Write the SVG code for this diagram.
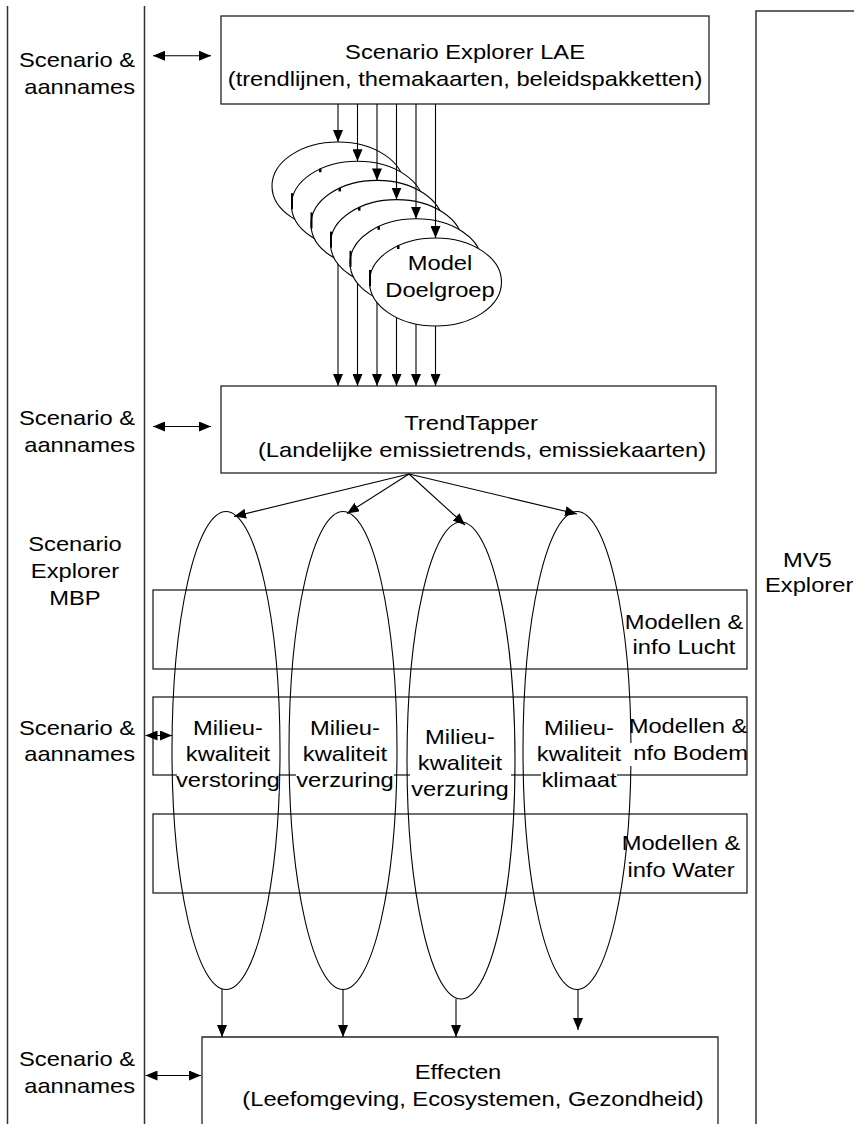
<svg xmlns="http://www.w3.org/2000/svg" width="854" height="1124" viewBox="0 0 854 1124">
  <style>
    .t { font-family: "Liberation Sans", Arial, sans-serif; font-size: 21px; fill: #000; }
    .m { text-anchor: middle; }
    .e { text-anchor: end; }
    .box { fill: #fff; stroke: #222; stroke-width: 1.3; }
    .frame { fill: none; stroke: #333; stroke-width: 1.5; }
    .ln { fill: none; stroke: #000; stroke-width: 1.1; }
    .arr { fill: none; stroke: #000; stroke-width: 1.1; marker-end: url(#ah); }
    .dbl { fill: none; stroke: #000; stroke-width: 1.1; marker-start: url(#ah); marker-end: url(#ah); }
    .ov { fill: #fff; stroke: #000; stroke-width: 1.1; }
    .tall { fill: none; stroke: #000; stroke-width: 1.1; }
    .bg { fill: #fff; }
    .mk { fill: #000; }
  </style>
  <defs>
    <marker id="ah" viewBox="0 0 12 10" refX="12" refY="5" markerWidth="12" markerHeight="10" markerUnits="userSpaceOnUse" orient="auto-start-reverse">
      <path d="M0,0 L12,5 L0,10 z" fill="#000"/>
    </marker>
  </defs>

  <rect width="854" height="1124" fill="#fff"/>

  <!-- side panels -->
  <g id="panel-left">
    <path class="frame" d="M7.5 6 V1124 M144.5 6 V1124"/>
    <text class="t e" transform="translate(135 0) scale(1.13 1)"><tspan x="0" y="67.5">Scenario &amp;</tspan><tspan x="0" y="94">aannames</tspan></text>
    <text class="t e" transform="translate(135 0) scale(1.13 1)"><tspan x="0" y="425.5">Scenario &amp;</tspan><tspan x="0" y="452">aannames</tspan></text>
    <text class="t m" transform="translate(75 0) scale(1.13 1)"><tspan x="0" y="551">Scenario</tspan><tspan x="0" y="578">Explorer</tspan><tspan x="0" y="605">MBP</tspan></text>
    <text class="t e" transform="translate(135 0) scale(1.13 1)"><tspan x="0" y="735.5">Scenario &amp;</tspan><tspan x="0" y="761">aannames</tspan></text>
    <text class="t e" transform="translate(135 0) scale(1.13 1)"><tspan x="0" y="1066">Scenario &amp;</tspan><tspan x="0" y="1093">aannames</tspan></text>
  </g>
  <g id="panel-right">
    <path class="frame" d="M854 11 H756 V1124"/>
    <text class="t" transform="translate(783 0) scale(1.13 1)"><tspan x="0" y="567">MV5</tspan></text>
    <text class="t" transform="translate(765 0) scale(1.13 1)"><tspan x="0" y="592">Explorer</tspan></text>
  </g>

  <!-- top box -->
  <g id="scenario-explorer-lae">
    <rect class="box" x="221" y="16" width="488" height="88"/>
    <text class="t m" transform="translate(465 0) scale(1.13 1)"><tspan x="0" y="59.5">Scenario Explorer LAE</tspan><tspan x="0" y="86.5">(trendlijnen, themakaarten, beleidspakketten)</tspan></text>
  </g>

  <!-- lines from the model stack down to TrendTapper (hidden behind the ellipses) -->
  <g id="stack-outputs">
    <path class="arr" d="M338 186 V386"/>
    <path class="arr" d="M357.5 205 V386"/>
    <path class="arr" d="M377 224 V386"/>
    <path class="arr" d="M396.5 243 V386"/>
    <path class="arr" d="M416 263 V386"/>
    <path class="arr" d="M435.5 282 V386"/>
  </g>

  <!-- stacked target-group models, back to front -->
  <g id="model-doelgroep">
    <g>
      <ellipse class="ov" cx="338" cy="186" rx="66" ry="44"/>
    </g>
    <g>
      <ellipse class="ov" cx="357.5" cy="205.2" rx="66" ry="44"/>
      <rect class="mk" x="319" y="168.7" width="2.5" height="3.5"/>
      <rect class="mk" x="291" y="193.2" width="2" height="16"/>
    </g>
    <g>
      <ellipse class="ov" cx="377" cy="224.4" rx="66" ry="44"/>
      <rect class="mk" x="338.5" y="187.9" width="2.5" height="3.5"/>
      <rect class="mk" x="310.5" y="212.4" width="2" height="16"/>
    </g>
    <g>
      <ellipse class="ov" cx="396.5" cy="243.6" rx="66" ry="44"/>
      <rect class="mk" x="358" y="207.1" width="2.5" height="3.5"/>
      <rect class="mk" x="330" y="231.6" width="2" height="16"/>
    </g>
    <g>
      <ellipse class="ov" cx="416" cy="262.8" rx="66" ry="44"/>
      <rect class="mk" x="377.5" y="226.3" width="2.5" height="3.5"/>
      <rect class="mk" x="349.5" y="250.8" width="2" height="16"/>
    </g>
    <g>
      <ellipse class="ov" cx="435.5" cy="282" rx="66" ry="44"/>
      <rect class="mk" x="397" y="245.5" width="2.5" height="3.5"/>
      <rect class="mk" x="369" y="270" width="2" height="16"/>
      <text class="t m" transform="translate(440 0) scale(1.13 1)"><tspan x="0" y="270">Model</tspan><tspan x="0" y="297">Doelgroep</tspan></text>
    </g>
  </g>

  <!-- TrendTapper -->
  <g id="trendtapper">
    <rect class="box" x="221" y="386" width="495" height="87"/>
    <text class="t m" transform="translate(471 0) scale(1.13 1)"><tspan x="0" y="430.5">TrendTapper</tspan></text>
    <text class="t m" transform="translate(482 0) scale(1.13 1)"><tspan x="0" y="457.5">(Landelijke emissietrends, emissiekaarten)</tspan></text>
  </g>

  <!-- model and info boxes -->
  <g id="modellen-lucht">
    <rect class="box" x="153" y="590" width="594" height="79"/>
    <text class="t m" transform="translate(684 0) scale(1.13 1)"><tspan x="0" y="629">Modellen &amp;</tspan><tspan x="0" y="654">info Lucht</tspan></text>
  </g>
  <g id="modellen-bodem">
    <rect class="box" x="153" y="697" width="594" height="78"/>
    <text class="t m" transform="translate(688 0) scale(1.13 1)"><tspan x="0" y="733">Modellen &amp;</tspan><tspan x="0" y="760">info Bodem</tspan></text>
  </g>
  <g id="modellen-water">
    <rect class="box" x="153" y="814" width="594" height="79"/>
    <text class="t m" transform="translate(681 0) scale(1.13 1)"><tspan x="0" y="850">Modellen &amp;</tspan><tspan x="0" y="877">info Water</tspan></text>
  </g>

  <!-- environmental quality loops -->
  <g id="milieu-verstoring">
    <ellipse class="tall" cx="226" cy="750.5" rx="54" ry="239"/>
    <rect class="bg" x="193" y="717" width="70" height="23"/>
    <rect class="bg" x="186" y="743" width="84" height="23"/>
    <rect class="bg" x="177" y="769" width="101.5" height="24"/>
    <text class="t m" transform="translate(228 0) scale(1.13 1)"><tspan x="0" y="735">Milieu-</tspan><tspan x="0" y="761">kwaliteit</tspan><tspan x="0" y="787">verstoring</tspan></text>
  </g>
  <g id="milieu-verzuring-1">
    <ellipse class="tall" cx="343" cy="750.5" rx="54" ry="239"/>
    <rect class="bg" x="310" y="717" width="70" height="23"/>
    <rect class="bg" x="303" y="743" width="84" height="23"/>
    <rect class="bg" x="296" y="769" width="98" height="24"/>
    <text class="t m" transform="translate(345 0) scale(1.13 1)"><tspan x="0" y="735">Milieu-</tspan><tspan x="0" y="761">kwaliteit</tspan><tspan x="0" y="787">verzuring</tspan></text>
  </g>
  <g id="milieu-verzuring-2">
    <ellipse class="tall" cx="461" cy="760.5" rx="54" ry="238.5"/>
    <rect class="bg" x="425" y="726" width="70" height="23"/>
    <rect class="bg" x="410" y="752" width="101" height="25"/>
    <rect class="bg" x="411" y="778" width="98" height="24"/>
    <text class="t m" transform="translate(460 0) scale(1.13 1)"><tspan x="0" y="744">Milieu-</tspan><tspan x="0" y="770">kwaliteit</tspan><tspan x="0" y="796">verzuring</tspan></text>
  </g>
  <g id="milieu-klimaat">
    <ellipse class="tall" cx="577" cy="750.5" rx="54" ry="239"/>
    <rect class="bg" x="544" y="717" width="70" height="23"/>
    <rect class="bg" x="537" y="743" width="96" height="23"/>
    <rect class="bg" x="541" y="769" width="76" height="24"/>
    <text class="t m" transform="translate(579 0) scale(1.13 1)"><tspan x="0" y="735">Milieu-</tspan><tspan x="0" y="761">kwaliteit</tspan><tspan x="0" y="787">klimaat</tspan></text>
  </g>

  <!-- Effecten -->
  <g id="effecten">
    <path class="box" d="M202 1125 V1037 H718 V1125"/>
    <text class="t m" transform="translate(458 0) scale(1.13 1)"><tspan x="0" y="1079">Effecten</tspan></text>
    <text class="t m" transform="translate(473 0) scale(1.13 1)"><tspan x="0" y="1106">(Leefomgeving, Ecosystemen, Gezondheid)</tspan></text>
  </g>

  <!-- connectors -->
  <g id="connectors">
    <path class="dbl" d="M153 55.7 H211"/>
    <path class="dbl" d="M153 426.5 H211"/>
    <path class="dbl" d="M145.5 735.5 H172"/>
    <path class="dbl" d="M145.5 1075.5 H201"/>

    <path class="arr" d="M338 104 V142"/>
    <path class="arr" d="M357.5 104 V161.2"/>
    <path class="arr" d="M377 104 V180.4"/>
    <path class="arr" d="M396.5 104 V199.6"/>
    <path class="arr" d="M416 104 V218.8"/>
    <path class="arr" d="M435.5 104 V238"/>

    <path class="arr" d="M409 474 L234 516.5"/>
    <path class="arr" d="M409 474 L347 513.5"/>
    <path class="arr" d="M409 474 L465 525"/>
    <path class="arr" d="M409 474 L577 514"/>

    <path class="arr" d="M222 989 V1037"/>
    <path class="arr" d="M343 989 V1037"/>
    <path class="arr" d="M456 999 V1037"/>
    <path class="arr" d="M578 989 V1030"/>
  </g>
</svg>
